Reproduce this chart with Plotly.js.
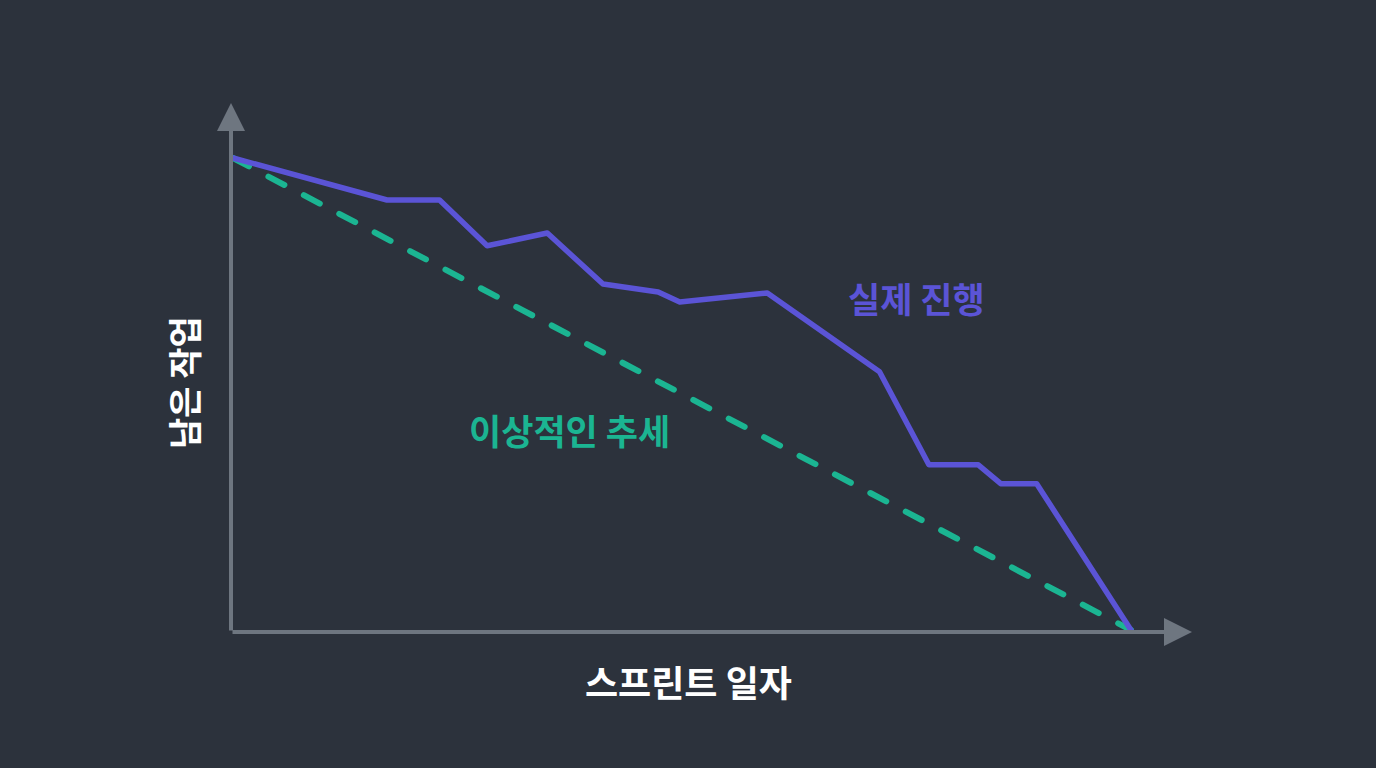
<!DOCTYPE html>
<html>
<head>
<meta charset="utf-8">
<script src="https://cdn.plot.ly/plotly-3.0.1.min.js"></script>
<style>
html,body{margin:0;padding:0;background:#2c323c;}
#chart{width:1376px;height:768px;}
.scatterlayer path.js-line{stroke-linecap:round !important;stroke-linejoin:round !important;}
</style>
</head>
<body>
<div id="chart"></div>
<script>
// Sprint day (x) and remaining work (y)
const actualDays = [0, 3.43, 4.6, 5.66, 7.0, 8.24, 9.47, 9.95, 11.9, 14.4, 15.5, 16.6, 17.1, 17.9, 20];
const actualRemaining = [100, 91.1, 91.1, 81.4, 84.1, 73.3, 71.6, 69.5, 71.4, 54.7, 35.0, 35.0, 31.0, 31.0, 0];
const idealDays = [0, 20];
const idealRemaining = [100, 0];

const labelActual = '실제 진행';
const labelIdeal = '이상적인 추세';
const xTitle = '스프린트 일자';
const yTitle = '남은 작업';

const font = '"Noto Sans CJK KR", "Noto Sans", sans-serif';
const purple = '#5b54d6';
const green = '#1bb592';
const axisGray = '#6e7680';

const traces = [
  {x: idealDays, y: idealRemaining, mode: 'lines', type: 'scatter',
   line: {color: green, width: 6, dash: '18px,22px'}, hoverinfo: 'skip'},
  {x: actualDays, y: actualRemaining, mode: 'lines', type: 'scatter',
   line: {color: purple, width: 5.5}, hoverinfo: 'skip'}
];

const xr = [-0.045, 21.36];
const yr = [-0.42, 111.65];

const plotW = 1376 - 231 - 184, plotH = 768 - 103 - 136;

const layout = {
  width: 1376, height: 768,
  paper_bgcolor: '#2c323c', plot_bgcolor: '#2c323c',
  margin: {l: 231, r: 184, t: 103, b: 136},
  showlegend: false,
  xaxis: {range: xr, showgrid: false, zeroline: false, showticklabels: false, showline: false, ticks: ''},
  yaxis: {range: yr, showgrid: false, zeroline: false, showticklabels: false, showline: false, ticks: ''},
  annotations: [
    {x: xr[1], y: yr[0], ax: xr[0], ay: yr[0], xref: 'x', yref: 'y', axref: 'x', ayref: 'y',
     text: '', showarrow: true, arrowhead: 2, arrowsize: 1.4, arrowwidth: 4, arrowcolor: axisGray},
    {x: xr[0], y: yr[1], ax: xr[0], ay: yr[0], xref: 'x', yref: 'y', axref: 'x', ayref: 'y',
     text: '', showarrow: true, arrowhead: 2, arrowsize: 1.4, arrowwidth: 4, arrowcolor: axisGray},
    {x: 15.23, y: 70.5, xref: 'x', yref: 'y', xanchor: 'center', yanchor: 'middle',
     text: '<b>' + labelActual + '</b>', showarrow: false,
     font: {family: font, size: 35, color: purple}},
    {x: 7.5, y: 42.4, xref: 'x', yref: 'y', xanchor: 'center', yanchor: 'middle',
     text: '<b>' + labelIdeal + '</b>', showarrow: false,
     font: {family: font, size: 35, color: green}},
    {x: (688 - 231) / plotW, y: (632 - 681) / plotH, xref: 'paper', yref: 'paper',
     xanchor: 'center', yanchor: 'middle',
     text: '<b>' + xTitle + '</b>', showarrow: false,
     font: {family: font, size: 36, color: '#ffffff'}},
    {x: (183 - 231) / plotW, y: (632 - 383) / plotH, xref: 'paper', yref: 'paper',
     xanchor: 'center', yanchor: 'middle',
     text: '<b>' + yTitle + '</b>', showarrow: false,
     textangle: -90, font: {family: font, size: 34, color: '#ffffff'}}
  ]
};

Plotly.newPlot('chart', traces, layout, {staticPlot: true, displayModeBar: false});
</script>
</body>
</html>
